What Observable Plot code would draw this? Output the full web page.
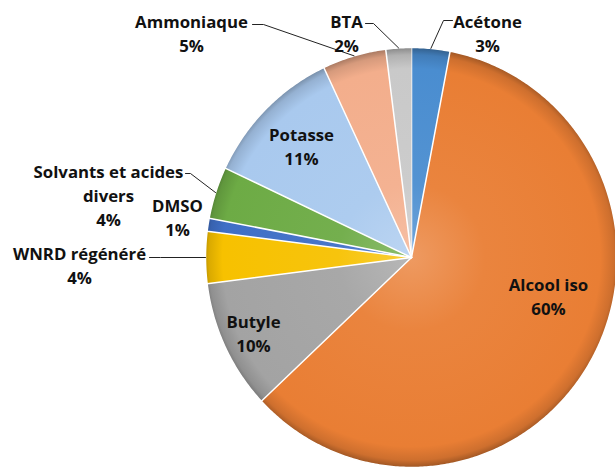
<!DOCTYPE html>
<html><head><meta charset="utf-8">
<script src="https://cdn.jsdelivr.net/npm/d3@7"></script>
<script src="https://cdn.jsdelivr.net/npm/@observablehq/plot@0.6"></script>
<style>body{margin:0;background:#fff;overflow:hidden}</style>
</head><body><div id="chart"></div>
<script>
// ---- data ----
const categories = ["Acétone","Alcool iso","Butyle","WNRD régénéré","DMSO","Solvants et acides divers","Potasse","Ammoniaque","BTA"];
const values = [3,60,10,4,1,4,11,5,2];
const percentLabels = ["3%","60%","10%","4%","1%","4%","11%","5%","2%"];
const labelTexts = ["Acétone","Alcool iso","Butyle","WNRD régénéré","DMSO","Solvants et acides\ndivers","Potasse","Ammoniaque","BTA"];
const colors = ["#4a8dd0","#e97e34","#a3a3a3","#f7c100","#3f6fc6","#6dab45","#a9c9ee","#f3ae8c","#c9c9c9"];

// ---- layout (pixels) ----
const W = 615, H = 468, CX = 411, CY = 257, RX = 206, RY = 210;
const labelPos = { // block centre of each label
  "Acétone": [487, 32], "Alcool iso": [548, 294.5], "Butyle": [253, 331.5],
  "WNRD régénéré": [79, 264], "DMSO": [177, 216], "Solvants et acides divers": [108, 194],
  "Potasse": [301, 144.5], "Ammoniaque": [191, 32], "BTA": [346, 32]
};
const leaderPos = { // start + elbow of leader lines
  "Ammoniaque": [[252,24],[263,24]], "BTA": [[365,23],[373,23]], "Acétone": [[452,20],[443,20]],
  "Solvants et acides divers": [[185,173],[190,173]], "WNRD régénéré": [[149,257],[160,257]]
};
const toX = px => (px - CX) / RX, toY = py => (CY - py) / RY;

const arcs = d3.pie().sort(null).value(d => d)(values);
const slicePts = [];
arcs.forEach((a, i) => {
  const name = categories[i], fill = `url(#g${i})`;
  slicePts.push({name, fill, x: 0, y: 0});
  const n = Math.max(4, Math.ceil((a.endAngle - a.startAngle) / 0.01));
  for (let k = 0; k <= n; k++) {
    const t = a.startAngle + (a.endAngle - a.startAngle) * k / n;
    slicePts.push({name, fill, x: Math.sin(t), y: Math.cos(t)});
  }
});
const labels = categories.map((c, i) => ({
  text: labelTexts[i] + "\n" + percentLabels[i], x: toX(labelPos[c][0]), y: toY(labelPos[c][1])
}));
const leaderPts = [];
categories.forEach((c, i) => {
  if (!leaderPos[c]) return;
  const a = arcs[i], m = (a.startAngle + a.endAngle) / 2;
  leaderPos[c].forEach(([px, py]) => leaderPts.push({name: c, x: toX(px), y: toY(py)}));
  leaderPts.push({name: c, x: Math.sin(m), y: Math.cos(m)});
});

const svg = Plot.plot({
  width: W, height: H, margin: 0,
  x: {domain: [toX(0), toX(W)], range: [0, W], axis: null},
  y: {domain: [toY(H), toY(0)], range: [H, 0], axis: null},
  color: {type: "identity"},
  style: {fontFamily: "'Open Sans', sans-serif", background: "white"},
  marks: [
    Plot.line(slicePts, {x: "x", y: "y", z: "name", fill: "fill", stroke: "white", strokeWidth: 1.5, strokeLinejoin: "round"}),
    Plot.line(leaderPts, {x: "x", y: "y", z: "name", stroke: "#222", strokeWidth: 1}),
    Plot.text(labels, {x: "x", y: "y", text: "text", fontSize: 16.8, fontWeight: "bold", fill: "#111", lineHeight: 1.43, textAnchor: "middle"})
  ]
});
const defs = d3.select(svg).insert("defs", ":first-child");
colors.forEach((c, i) => {
  const g = defs.append("radialGradient").attr("id", `g${i}`).attr("gradientUnits", "userSpaceOnUse")
    .attr("cx", CX).attr("cy", CY).attr("r", RY);
  const base = d3.color(c);
  [[0, d3.interpolateRgb(c, "#fff")(0.22)], [0.35, d3.interpolateRgb(c, "#fff")(0.05)], [0.9, c],
   [0.965, base.darker(0.35)], [1, base.darker(1.1)]].forEach(([o, col]) =>
    g.append("stop").attr("offset", o).attr("stop-color", col));
});
document.getElementById("chart").append(svg);
</script>
</body></html>
